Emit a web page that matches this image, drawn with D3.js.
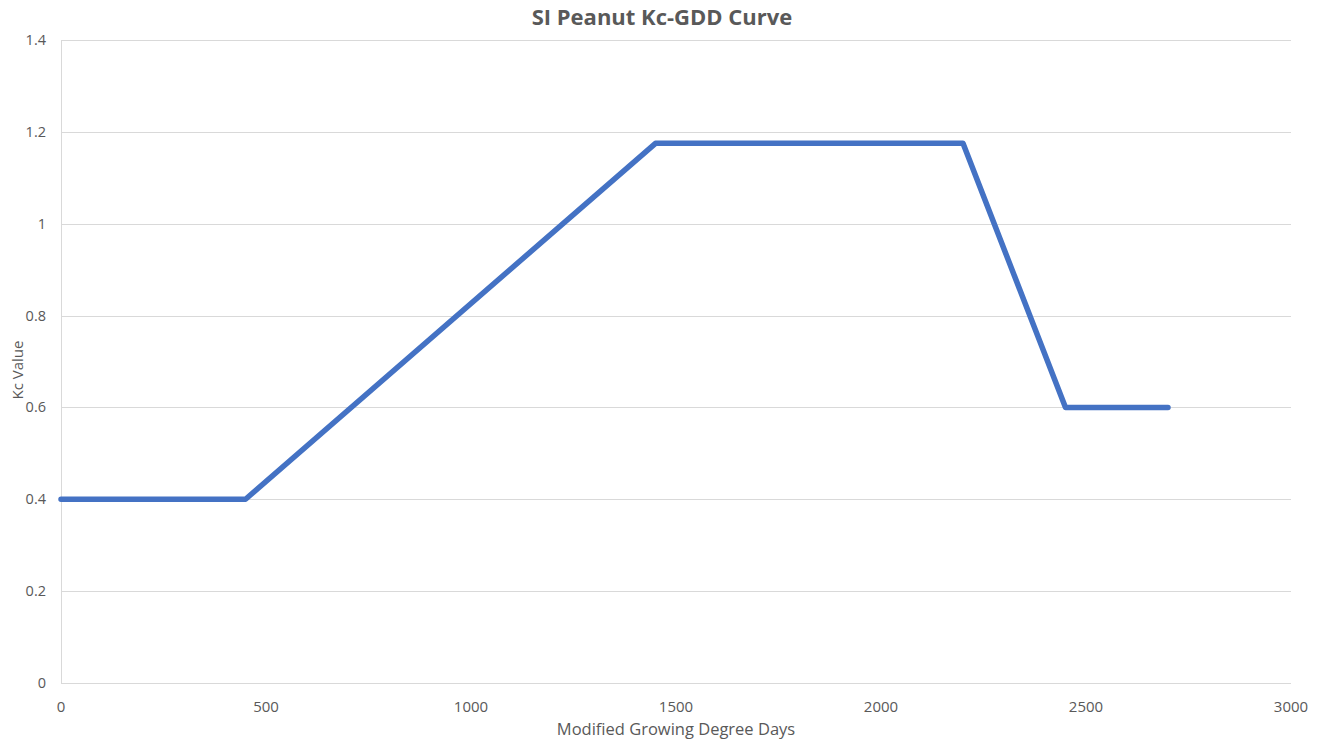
<!DOCTYPE html>
<html>
<head>
<meta charset="utf-8">
<script src="https://cdn.jsdelivr.net/npm/d3@7"></script>
<style>
  body { margin: 0; background: #fff; }
  text { font-family: "Open Sans", "Liberation Sans", sans-serif; fill: #595959; }
</style>
</head>
<body>
<script>
// chart data
var gdd = [0, 450, 1450, 2200, 2450, 2700];
var kc = [0.4, 0.4, 1.175, 1.175, 0.6, 0.6];
var xTicks = [0, 500, 1000, 1500, 2000, 2500, 3000];
var yTicks = [0, 0.2, 0.4, 0.6, 0.8, 1, 1.2, 1.4];

var width = 1332, height = 742;
var plotLeft = 61, plotRight = 1291, plotTop = 40, plotBottom = 683;

var svg = d3.select("body").append("svg")
    .attr("width", width)
    .attr("height", height);

var x = d3.scaleLinear().domain([0, 3000]).range([plotLeft, plotRight]);
var y = d3.scaleLinear().domain([0, 1.4]).range([plotBottom, plotTop]);

// horizontal gridlines
svg.append("g")
  .selectAll("line")
  .data(yTicks)
  .enter().append("line")
    .attr("x1", plotLeft)
    .attr("x2", plotRight)
    .attr("y1", function(d) { return Math.round(y(d)) + 0.5; })
    .attr("y2", function(d) { return Math.round(y(d)) + 0.5; })
    .attr("stroke", "#d9d9d9")
    .attr("stroke-width", 1);

// left axis line
svg.append("line")
    .attr("x1", plotLeft + 0.5).attr("x2", plotLeft + 0.5)
    .attr("y1", plotTop).attr("y2", plotBottom)
    .attr("stroke", "#d9d9d9");

// y tick labels
svg.append("g")
  .selectAll("text")
  .data(yTicks)
  .enter().append("text")
    .attr("x", plotLeft - 15)
    .attr("y", function(d) { return y(d) + 5; })
    .attr("text-anchor", "end")
    .attr("font-size", 14.5)
    .text(function(d) { return d3.format("~g")(d); });

// x tick labels
svg.append("g")
  .selectAll("text")
  .data(xTicks)
  .enter().append("text")
    .attr("x", function(d) { return x(d); })
    .attr("y", plotBottom + 29)
    .attr("text-anchor", "middle")
    .attr("font-size", 15)
    .text(function(d) { return d; });

// the curve
var line = d3.line()
    .x(function(d, i) { return x(gdd[i]); })
    .y(function(d) { return y(d); });

svg.append("path")
    .datum(kc)
    .attr("d", line)
    .attr("fill", "none")
    .attr("stroke", "#4472c4")
    .attr("stroke-width", 5.5)
    .attr("stroke-linejoin", "round")
    .attr("stroke-linecap", "round");

// titles
svg.append("text")
    .attr("x", 662)
    .attr("y", 25)
    .attr("text-anchor", "middle")
    .attr("font-size", 22)
    .attr("font-weight", "bold")
    .text("SI Peanut Kc-GDD Curve");

svg.append("text")
    .attr("x", 676)
    .attr("y", 735)
    .attr("text-anchor", "middle")
    .attr("font-size", 16.5)
    .text("Modified Growing Degree Days");

svg.append("text")
    .attr("transform", "translate(23," + 370 + ") rotate(-90)")
    .attr("text-anchor", "middle")
    .attr("font-size", 15)
    .text("Kc Value");
</script>
</body>
</html>
